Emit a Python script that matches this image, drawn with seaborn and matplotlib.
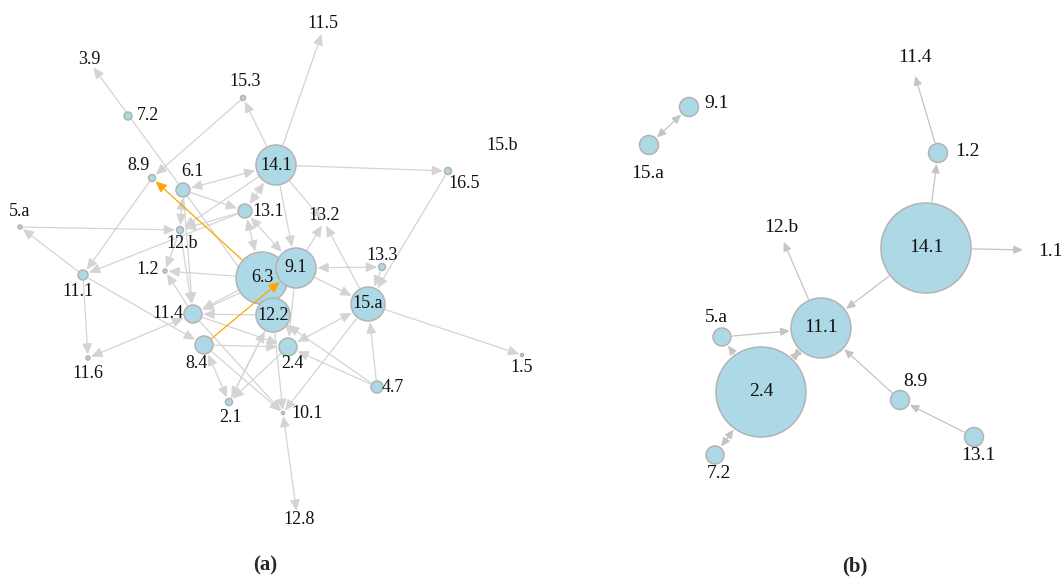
import numpy as np
import pandas as pd
import matplotlib
matplotlib.use("Agg")
import matplotlib.pyplot as plt
import seaborn as sns

# panel (a): node layout (pixel space), radius, label anchor
names_a = ["3.9", "7.2", "15.3", "8.9", "6.1", "13.1", "5.a", "12.b", "1.2", "14.1",
           "11.5", "13.2", "13.3", "6.3", "9.1", "12.2", "15.a", "16.5", "15.b", "1.5",
           "11.1", "11.4", "8.4", "2.4", "11.6", "4.7", "2.1", "10.1", "12.8"]
x_a = [91, 128, 243, 152, 183, 245, 20, 180, 165, 276,
       323, 324, 382, 262, 296, 273, 368, 448, 491, 522,
       83, 193, 204, 288, 88, 377, 229, 283, 297]
y_a = [64, 116, 98, 178, 190, 211, 227, 230, 271, 165,
       30, 222, 267, 278, 268, 315, 304, 171, 149, 355,
       275, 314, 345, 347, 358, 387, 402, 413, 515]
r_a = [0, 4, 2.5, 3.5, 7, 7, 2, 3.5, 2, 20,
       0, 0, 3.5, 26, 20, 17, 17, 3.5, 0, 1.5,
       5, 9, 9, 9, 2, 6, 3.5, 1.5, 0]
lx_a = [89, 148, 245, 139, 193, 268, 20, 182, 148, 276,
        323, 324, 382, 262, 296, 273, 368, 464, 502, 522,
        78, 168, 196, 292, 88, 393, 230, 307, 299]
ly_a = [60, 116, 82, 166, 172, 211, 211, 243, 270, 165,
        23, 215, 255, 278, 268, 316, 304, 184, 145, 368,
        292, 313, 363, 364, 373, 387, 418, 413, 520]

edges_a = [("6.1", "3.9", False), ("14.1", "15.3", False), ("15.3", "8.9", False),
           ("8.9", "11.1", False), ("14.1", "6.1", True), ("6.1", "13.1", False),
           ("6.1", "12.b", True), ("5.a", "12.b", False), ("11.1", "5.a", False),
           ("13.1", "11.1", False), ("13.1", "12.b", False), ("14.1", "12.b", False),
           ("6.3", "1.2", False), ("12.b", "1.2", False), ("13.1", "14.1", True),
           ("13.1", "6.3", True), ("13.1", "9.1", True), ("14.1", "9.1", False),
           ("14.1", "13.2", False), ("9.1", "13.2", False), ("15.a", "13.2", False),
           ("14.1", "16.5", False), ("16.5", "15.a", False), ("13.3", "9.1", True),
           ("13.3", "15.a", False), ("9.1", "15.a", False), ("15.a", "1.5", False),
           ("4.7", "15.a", False), ("4.7", "2.4", False), ("4.7", "12.2", False),
           ("15.a", "2.4", True), ("15.a", "10.1", False), ("6.3", "11.4", False),
           ("12.2", "11.4", False), ("9.1", "11.4", False), ("11.4", "11.6", True),
           ("11.1", "11.6", False), ("11.1", "8.4", False), ("8.4", "2.1", True),
           ("8.4", "10.1", False), ("11.4", "10.1", False), ("12.2", "10.1", False),
           ("12.8", "10.1", True), ("2.4", "2.1", False), ("12.2", "2.1", False),
           ("2.1", "12.2", False), ("11.4", "2.4", False), ("8.4", "2.4", False),
           ("6.1", "11.4", False), ("11.4", "1.2", False), ("6.1", "12.2", False),
           ("9.1", "2.4", False), ("14.1", "11.5", False), ("12.b", "11.4", False)]
orange_a = [("6.3", "8.9"), ("8.4", "9.1")]

# panel (b)
names_b = ["9.1", "15.a", "11.4", "1.2", "14.1", "1.1", "12.b",
           "11.1", "5.a", "2.4", "7.2", "8.9", "13.1"]
x_b = [689, 649, 914, 938, 926, 1027, 782, 821, 722, 761, 715, 900, 974]
y_b = [107, 145, 72, 153, 248, 250, 238, 328, 337, 392, 455, 400, 437]
r_b = [9.5, 9.5, 0, 9.5, 45, 0, 0, 30, 9, 45, 9, 9.5, 9.5]
lx_b = [717, 648, 915, 967, 926, 1050, 781, 821, 716, 761, 719, 915, 978]
ly_b = [104, 173, 58, 152, 248, 251, 227, 328, 317, 392, 473, 382, 455]
edges_b = [("9.1", "15.a", True), ("1.2", "11.4", False), ("14.1", "1.2", False),
           ("14.1", "1.1", False), ("14.1", "11.1", False), ("11.1", "12.b", False),
           ("5.a", "11.1", False), ("2.4", "5.a", False), ("2.4", "11.1", True),
           ("7.2", "2.4", True), ("8.9", "11.1", False), ("13.1", "8.9", False)]

sns.set_theme(style="white")
plt.rcParams["font.family"] = ["Liberation Serif", "DejaVu Serif"]

PT = 0.72  # points per pixel at dpi 100
fig = plt.figure(figsize=(10.62, 5.78), dpi=100)
ax = fig.add_axes([0, 0, 1, 1])
ax.set_xlim(0, 1062)
ax.set_ylim(578, 0)
ax.axis("off")


def draw_panel(names, xs, ys, rs, lxs, lys, edges, special, fsize, mscale, ecol):
    nodes = pd.DataFrame({"name": names, "x": xs, "y": ys, "r": rs})
    pos = nodes.set_index("name")
    links = [e + (ecol, 1) for e in edges] + [s + (False, "#ffa500", 3.5) for s in special]
    for src, dst, both, col, z in links:
        a, b = pos.loc[src], pos.loc[dst]
        style = "<|-|>" if both else "-|>"
        ax.annotate("", xy=(b.x, b.y), xytext=(a.x, a.y), zorder=z,
                    arrowprops=dict(arrowstyle=style + ",head_length=0.6,head_width=0.27",
                                    color=col, lw=0.9, mutation_scale=mscale,
                                    shrinkA=a.r * PT + (1 if a.r else 3),
                                    shrinkB=b.r * PT + (1 if b.r else 3)))
    shown = nodes[nodes.r > 0]
    sns.scatterplot(data=shown, x="x", y="y", s=(2 * shown.r.values * PT) ** 2,
                    color="#add8e6", edgecolor="#b3b3b3", linewidth=1.1,
                    legend=False, ax=ax, zorder=3)
    for n, tx, ty in zip(names, lxs, lys):
        ax.text(tx, ty, n, ha="center", va="center", fontsize=fsize,
                color="#111111", zorder=4)


draw_panel(names_a, x_a, y_a, r_a, lx_a, ly_a, edges_a, orange_a, 13, 11, "#d4d4d4")
draw_panel(names_b, x_b, y_b, r_b, lx_b, ly_b, edges_b, [], 14, 9, "#c4c4c4")

ax.text(265, 565, "(a)", ha="center", va="center", fontsize=15, fontweight="bold")
ax.text(855, 566, "(b)", ha="center", va="center", fontsize=15, fontweight="bold")
ax.set_xlim(0, 1062)
ax.set_ylim(578, 0)

fig.savefig("out.png", dpi=100)
